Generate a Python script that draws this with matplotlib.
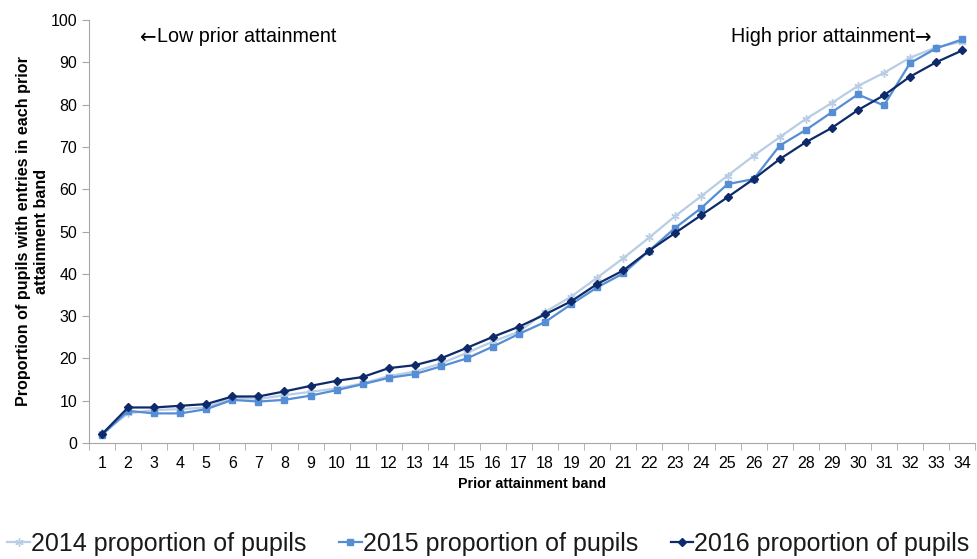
import matplotlib
matplotlib.use("Agg")
import matplotlib.pyplot as plt
import numpy as np

plt.rcParams['font.family'] = ['Liberation Sans', 'DejaVu Sans']

bands = list(range(1, 35))

# proportion of pupils with entries
p2014 = [2.3, 7.0, 7.8, 8.0, 8.4, 10.7, 10.4, 11.3, 12.1, 12.9, 14.1, 15.8, 16.9, 18.8, 21.3, 24.0,
         26.3, 31.0, 34.6, 39.1, 43.7, 48.6, 53.7, 58.4, 63.2, 67.9, 72.3, 76.6, 80.4, 84.4,
         87.5, 91.1, 93.5, 94.9]
p2015 = [1.9, 7.6, 7.0, 7.0, 8.0, 10.2, 9.8, 10.2, 11.2, 12.5, 13.9, 15.4, 16.3, 18.1, 20.0, 22.8,
         25.8, 28.6, 32.8, 36.8, 40.1, 45.5, 50.9, 55.6, 61.2, 62.4, 70.3, 74.0, 78.2, 82.4,
         79.8, 89.8, 93.3, 95.4]
p2016 = [2.1, 8.4, 8.4, 8.8, 9.2, 11.0, 11.0, 12.2, 13.5, 14.7, 15.6, 17.7, 18.4, 20.0, 22.5, 25.1,
         27.5, 30.4, 33.5, 37.6, 40.8, 45.5, 49.7, 53.9, 58.1, 62.4, 67.1, 71.1, 74.5, 78.7,
         82.2, 86.6, 90.0, 92.8]

fig = plt.figure(figsize=(9.77, 5.59), dpi=100)
ax = fig.add_axes([0.0911, 0.2075, 0.907, 0.7567])

ax.plot(bands, p2014, color='#b9cde5', marker=(6, 2, 0), markersize=6, lw=1.6,
        label='2014 proportion of pupils')
ax.plot(bands, p2015, color='#558ed5', marker='s', markersize=4.5, lw=1.6,
        label='2015 proportion of pupils')
ax.plot(bands, p2016, color='#0f2a6b', marker='D', markersize=4.5, lw=1.6,
        label='2016 proportion of pupils')

ax.set_xlim(0.5, 34.5)
ax.set_ylim(0, 100)
ax.set_yticks(range(0, 101, 10))
ax.set_xticks(bands)
ax.set_xticks(np.arange(0.5, 35, 1), minor=True)
ax.tick_params(axis='x', which='major', length=0, labelsize=11.5, pad=9)
ax.tick_params(axis='x', which='minor', length=5, color='#a6a6a6')
ax.tick_params(axis='y', length=5, color='#a6a6a6', labelsize=11.5)

for s in ['top', 'right']:
    ax.spines[s].set_visible(False)
ax.spines['left'].set_color('#a6a6a6')
ax.spines['bottom'].set_color('#a6a6a6')

ax.set_xlabel('Prior attainment band', fontsize=10.3, fontweight='bold', labelpad=5)
ax.set_ylabel('Proportion of pupils with entries in each prior\nattainment band',
              fontsize=11.6, fontweight='bold', labelpad=1, linespacing=1.25)

# side notes, arrows drawn in DejaVu for a full-size glyph
lo = ax.text(3.1, 96.2, 'Low prior attainment', fontsize=14.2, va='center', ha='left')
ax.annotate('\u2190', xy=(0, 0.45), xycoords=lo, ha='right', va='center',
            fontsize=14.2, family='DejaVu Sans')
hi = ax.text(32.2, 96.2, 'High prior attainment', fontsize=14.2, va='center', ha='right')
ax.annotate('\u2192', xy=(1, 0.45), xycoords=hi, ha='left', va='center',
            fontsize=14.2, family='DejaVu Sans')

leg = fig.legend(loc='lower center', bbox_to_anchor=(0.5, -0.035), ncol=3, frameon=False,
                 prop={'size': 18}, handlelength=0.9, handletextpad=0.05,
                 columnspacing=1.3)
for t in leg.get_texts():
    t.set_color('#1a1a1a')

fig.savefig('out.png', dpi=100)
